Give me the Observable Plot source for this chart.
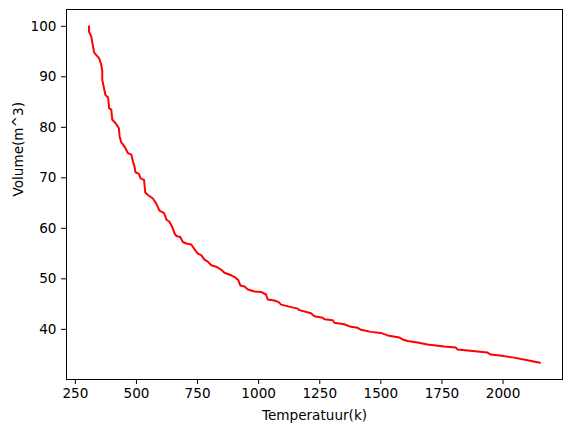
<!DOCTYPE html>
<html>
<head>
<meta charset="utf-8">
<script src="https://cdn.jsdelivr.net/npm/d3@7"></script>
<script src="https://cdn.jsdelivr.net/npm/@observablehq/plot@0.6"></script>
<style>
  html, body { margin: 0; padding: 0; background: white; }
</style>
</head>
<body>
<div id="chart"></div>
<script>
const temperature = [306,306,315,326,330,347,356,360,360,367,373,384,388,397,401,415,428,431,438,451,465,479,486,492,496,510,517,531,536,547,567,581,594,613,623,635,646,656,663,679,690,704,724,737,751,765,778,792,806,826,847,860,887,901,917,925,942,956,983,1010,1030,1037,1064,1082,1092,1133,1160,1167,1214,1228,1262,1269,1303,1310,1350,1378,1405,1419,1459,1500,1528,1575,1589,1609,1650,1691,1759,1807,1814,1875,1936,1950,2004,2045,2100,2151];
const volume = [100,98.9,98,95,94.6,93.7,92.4,91.1,89.4,87.8,86.4,85.9,83.8,83.5,81.5,80.8,79.8,78.2,77,76.2,74.9,74.6,73.2,72.2,71.1,70.8,69.9,69.6,67.1,66.6,65.9,64.9,63.5,63.0,61.7,61.3,60.3,59,58.5,58.3,57.3,57,56.8,55.9,55,54.7,53.8,53.4,52.7,52.4,51.8,51.2,50.7,50.4,49.7,48.7,48.5,47.9,47.5,47.4,46.9,45.9,45.7,45.4,44.9,44.4,44.1,43.8,43.2,42.6,42.3,42.0,41.8,41.3,41.0,40.5,40.3,39.9,39.5,39.3,38.8,38.4,38.0,37.7,37.4,37.0,36.6,36.4,36.0,35.7,35.4,35.0,34.7,34.4,33.9,33.4];
const xTicks = [250,500,750,1000,1250,1500,1750,2000];
const yTicks = [40,50,60,70,80,90,100];
const xLabel = "Temperatuur(k)";
const yLabel = "Volume(m^3)";

const data = temperature.map((t, i) => ({t, v: volume[i]}));
function pad(ext) { const r = ext[1] - ext[0]; return [ext[0] - 0.05 * r, ext[1] + 0.05 * r]; }

const FS = 13.6;
const chart = Plot.plot({
  width: 571,
  height: 432,
  marginLeft: 66,
  marginRight: 9,
  marginTop: 9,
  marginBottom: 53,
  style: {fontFamily: "DejaVu Sans", fontSize: FS + "px", background: "white", color: "black"},
  x: {domain: pad(d3.extent(temperature)), label: null},
  y: {domain: pad(d3.extent(volume)), label: null},
  marks: [
    Plot.line(data, {x: "t", y: "v", stroke: "red", strokeWidth: 2}),
    Plot.frame({stroke: "black", strokeWidth: 1}),
    Plot.axisX({ticks: xTicks, tickSize: 5, tickPadding: 4, tickFormat: d => String(d), label: null, fontSize: FS}),
    Plot.axisY({ticks: yTicks, tickSize: 5, tickPadding: 5, tickFormat: d => String(d), label: null, fontSize: FS}),
    Plot.text([xLabel], {text: d => d, frameAnchor: "bottom", dy: 36, lineAnchor: "middle", fontSize: FS, fill: "black"}),
    Plot.text([yLabel], {text: d => d, frameAnchor: "left", dx: -47.5, dy: 2, rotate: -90, lineAnchor: "middle", fontSize: FS, fill: "black"})
  ]
});
document.getElementById("chart").appendChild(chart);
</script>
</body>
</html>
